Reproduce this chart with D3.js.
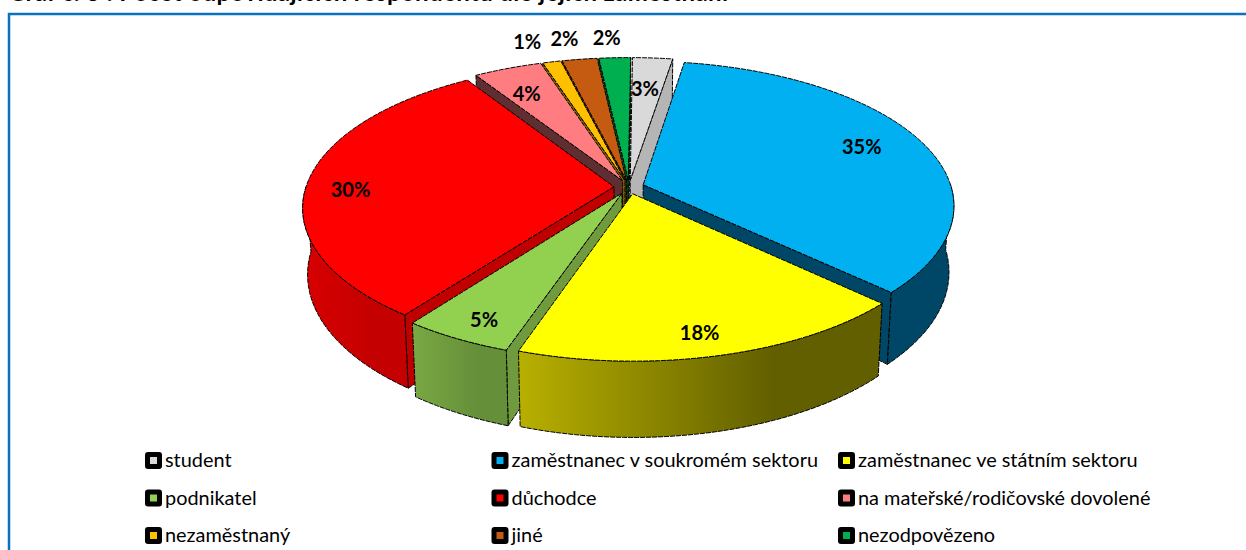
<!DOCTYPE html>
<html>
<head>
<meta charset="utf-8">
<title>Graf</title>
<script src="https://cdn.jsdelivr.net/npm/d3@7"></script>
<style>
  html, body { margin: 0; padding: 0; background: #fff; overflow: hidden; }
  text { font-family: Lato, "Open Sans", sans-serif; fill: #000; }
</style>
</head>
<body>
<script>
// Values
var categories = ["student", "zaměstnanec v soukromém sektoru", "zaměstnanec ve státním sektoru",
  "podnikatel", "důchodce", "na mateřské/rodičovské dovolené", "nezaměstnaný", "jiné", "nezodpovězeno"];
var percentLabels = [3, 35, 18, 5, 30, 4, 1, 2, 2];
// Slice sizes as they look on the drawing, the perspective pulls them a bit off the labels
var shares = [2.4, 34.6, 18.1, 5.0, 30.8, 4.1, 1.1, 2.1, 1.9];
var topColors = ["#d9d9d9", "#00b0f0", "#ffff00", "#92d050", "#ff0000", "#ff7c80", "#ffc000", "#c55a11", "#00b050"];
var wallColors = ["#b5b5b5", "#004666", "#6b6b00", "#6f9a3e", "#c00000", "#5e2e30", "#8a6800", "#6e3209", "#005f2b"];
var outerLeft = ["#b5b5b5", "#004666", "#b8b000", "#7aa844", "#d80000", "#5e2e30", "#8a6800", "#6e3209", "#005f2b"];
var outerRight = ["#b5b5b5", "#004666", "#625f00", "#658f39", "#c40000", "#5e2e30", "#8a6800", "#6e3209", "#005f2b"];

var titleText = "Graf č. 3 : Počet odpovídajících respondentů dle jejich zaměstnání";

var width = 1246, height = 550;

// Pie set up (tilted plane with a little perspective)
var cx = 629, cy = 187, radius = 308, tilt = 0.46, depth = 65, explode = 15, camera = 2180, drop = 4300;
var rotation = 0.0088;
var labelFactor = [0.72, 0.79, 0.89, 0.9, 0.86, 0.78, 1.2, 1.2, 1.17];
var labelShiftX = [-2, -3, -9, 9, 0, -4, -12, -7, -6];
var labelShiftY = [0, -3, -2, -2, 8, 3, 0, 0, -2];

var svg = d3.select("body").append("svg")
  .attr("width", width)
  .attr("height", height);

var defs = svg.append("defs");

// Frame and title
svg.append("rect")
  .attr("x", 9).attr("y", 14)
  .attr("width", 1300).attr("height", 600)
  .attr("fill", "#fff")
  .attr("stroke", "#0a70c0")
  .attr("stroke-width", 2.5);

svg.append("text")
  .attr("x", 8).attr("y", 1)
  .attr("textLength", 720)
  .style("font-weight", "bold")
  .style("font-size", "24px")
  .text(titleText);

// Project a point of the pie to the screen, z goes up from the top face
function project(x, y, z) {
  var s = 1 / (1 - y / camera);
  return [cx + x * s * (1 + z / drop), cy + (y * tilt - z) * s];
}

function rimPoint(a, r, off, z) {
  return project(off[0] + Math.sin(a) * r, off[1] - Math.cos(a) * r, z);
}

function arcPoints(a0, a1, off, z) {
  var n = Math.max(2, Math.ceil(Math.abs(a1 - a0) / 0.02));
  return d3.range(n + 1).map(function(i) {
    return rimPoint(a0 + (a1 - a0) * i / n, radius, off, z);
  });
}

var line = d3.line();

var pie = d3.pie().sort(null)
  .startAngle(rotation)
  .endAngle(2 * Math.PI + rotation)
  .value(function(d) { return d; });
var arcs = pie(shares).map(function(d, i) {
  var mid = (d.startAngle + d.endAngle) / 2;
  return {
    index: i,
    a0: d.startAngle,
    a1: d.endAngle,
    mid: mid,
    off: [Math.sin(mid) * explode, -Math.cos(mid) * explode]
  };
});

// Painter's order, back slices first
var ordered = arcs.slice().sort(function(a, b) { return a.off[1] - b.off[1]; });

var slices = svg.selectAll("g.slice")
  .data(ordered)
  .enter().append("g")
  .attr("class", "slice")
  .attr("stroke", "#000")
  .attr("stroke-width", 1)
  .attr("stroke-dasharray", "5 1")
  .attr("stroke-linejoin", "round");

slices.each(function(d) {
  var g = d3.select(this);
  var i = d.index;
  var apex = project(d.off[0], d.off[1], 0);
  var apexLow = project(d.off[0], d.off[1], -depth);

  // Cut faces, only the ones turned to the viewer
  [[d.a0, Math.sin(d.a0) < 0], [d.a1, Math.sin(d.a1) > 0]].forEach(function(w) {
    if (!w[1]) return;
    var top = rimPoint(w[0], radius, d.off, 0);
    var low = rimPoint(w[0], radius, d.off, -depth);
    g.append("path")
      .attr("d", line([apex, top, low, apexLow]) + "Z")
      .attr("fill", wallColors[i]);
  });

  // Outer wall for the front part of the rim
  var from = Math.max(d.a0, Math.PI / 2);
  var to = Math.min(d.a1, Math.PI * 1.5);
  if (to > from) {
    var upper = arcPoints(from, to, d.off, 0);
    var lower = arcPoints(to, from, d.off, -depth);
    var xs = upper.map(function(p) { return p[0]; });
    var id = "wall" + i;
    var grad = defs.append("linearGradient")
      .attr("id", id)
      .attr("gradientUnits", "userSpaceOnUse")
      .attr("x1", d3.min(xs)).attr("x2", d3.max(xs))
      .attr("y1", 0).attr("y2", 0);
    grad.append("stop").attr("offset", 0).attr("stop-color", outerLeft[i]);
    grad.append("stop").attr("offset", 0.7).attr("stop-color", outerRight[i]);
    g.append("path")
      .attr("d", line(upper.concat(lower)) + "Z")
      .attr("fill", "url(#" + id + ")");
  }

  // Top face
  g.append("path")
    .attr("d", line([apex].concat(arcPoints(d.a0, d.a1, d.off, 0))) + "Z")
    .attr("fill", topColors[i]);
});

// Percent labels
svg.selectAll("text.pct")
  .data(arcs)
  .enter().append("text")
  .attr("class", "pct")
  .attr("text-anchor", "middle")
  .attr("dy", "0.35em")
  .style("font-weight", "bold")
  .style("font-size", "20px")
  .attr("x", function(d) { return rimPoint(d.mid, radius * labelFactor[d.index], d.off, 0)[0] + labelShiftX[d.index]; })
  .attr("y", function(d) { return rimPoint(d.mid, radius * labelFactor[d.index], d.off, 0)[1] + labelShiftY[d.index]; })
  .text(function(d) { return percentLabels[d.index] + "%"; });

// Legend, three rows of three
var legendX = d3.scalePoint().domain([0, 1, 2]).range([145, 838]);
var legendY = d3.scalePoint().domain([0, 1, 2]).range([460.5, 535.5]);

var legend = svg.selectAll("g.key")
  .data(categories)
  .enter().append("g")
  .attr("class", "key")
  .attr("transform", function(d, i) {
    return "translate(" + legendX(i % 3) + "," + legendY(Math.floor(i / 3)) + ")";
  });

legend.append("rect")
  .attr("x", 0).attr("y", -8.5)
  .attr("width", 17).attr("height", 17)
  .attr("rx", 3)
  .attr("fill", "#000");

legend.append("rect")
  .attr("x", 5).attr("y", -3.5)
  .attr("width", 7).attr("height", 7)
  .attr("fill", function(d, i) { return topColors[i]; });

legend.append("text")
  .attr("x", 20)
  .attr("dy", "0.35em")
  .style("font-size", "19.9px")
  .text(function(d) { return d; });
</script>
</body>
</html>
